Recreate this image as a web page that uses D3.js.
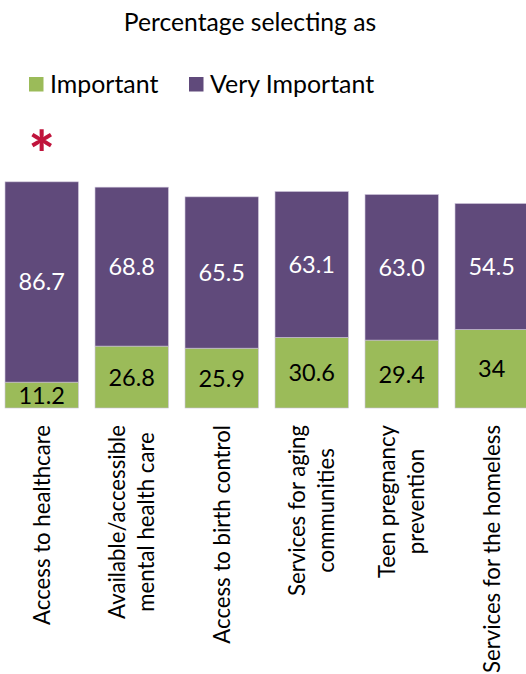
<!DOCTYPE html>
<html>
<head>
<meta charset="utf-8">
<script src="https://cdn.jsdelivr.net/npm/d3@7"></script>
<style>
  body { margin: 0; background: #fff; }
  svg { display: block; font-family: Lato, "Open Sans", sans-serif; }
</style>
</head>
<body>
<svg id="chart" width="526" height="674"></svg>
<script>
// Survey results: share of respondents rating each service
const categories = [
  "Access to healthcare",
  "Available/accessible\nmental health care",
  "Access to birth control",
  "Services for aging\ncommunities",
  "Teen pregnancy\nprevention",
  "Services for the homeless"
];
const importantText = ["11.2", "26.8", "25.9", "30.6", "29.4", "34"];
const veryImportantText = ["86.7", "68.8", "65.5", "63.1", "63.0", "54.5"];
const important = importantText.map(Number);
const veryImportant = veryImportantText.map(Number);
const seriesNames = ["Important", "Very Important"];
const seriesColors = ["#9BBB59", "#604A7B"];
const flagged = ["Access to healthcare"];

const svg = d3.select("#chart");
const baseY = 408;

const rows = categories.map((c, i) => ({
  category: c,
  Important: important[i],
  "Very Important": veryImportant[i],
  labels: { Important: importantText[i], "Very Important": veryImportantText[i] }
}));

const x = d3.scaleBand()
  .domain(categories)
  .range([-3.3, 536.7])
  .paddingInner(0.185)
  .paddingOuter(0.0925);

const y = d3.scaleLinear().domain([0, 100]).range([baseY, 177]);

const color = d3.scaleOrdinal().domain(seriesNames).range(seriesColors);

const stacked = d3.stack().keys(seriesNames)(rows);

// Title
svg.append("text")
  .attr("x", 250).attr("y", 31)
  .attr("text-anchor", "middle")
  .attr("font-size", 24.7)
  .attr("fill", "#000")
  .text("Percentage selecting as");

// Legend
const legendX = [29, 189];
const legend = svg.append("g");
seriesNames.forEach((name, i) => {
  legend.append("rect")
    .attr("x", legendX[i]).attr("y", 77)
    .attr("width", 14.5).attr("height", 14.5)
    .attr("fill", color(name));
  legend.append("text")
    .attr("x", legendX[i] + 21).attr("y", 93)
    .attr("font-size", 24.9)
    .attr("fill", "#000")
    .text(name);
});

// Stacked bars
const layers = svg.append("g").selectAll("g")
  .data(stacked)
  .join("g")
  .attr("fill", d => color(d.key));

layers.selectAll("rect")
  .data(d => d)
  .join("rect")
  .attr("x", d => x(d.data.category))
  .attr("y", d => y(d[1]))
  .attr("width", x.bandwidth())
  .attr("height", d => y(d[0]) - y(d[1]))
  .attr("stroke", "#c9bfd6")
  .attr("stroke-width", 0.6);

// Segment value labels
stacked.forEach(layer => {
  svg.append("g").selectAll("text")
    .data(layer)
    .join("text")
    .attr("x", d => x(d.data.category) + x.bandwidth() / 2)
    .attr("y", d => (y(d[0]) + y(d[1])) / 2)
    .attr("dy", "0.36em")
    .attr("text-anchor", "middle")
    .attr("font-size", 23.5)
    .attr("fill", layer.key === "Very Important" ? "#fff" : "#000")
    .text(d => d.data.labels[layer.key]);
});

// Marker above flagged categories
svg.append("g").selectAll("text")
  .data(flagged)
  .join("text")
  .attr("x", d => x(d) + x.bandwidth() / 2)
  .attr("y", 177)
  .attr("text-anchor", "middle")
  .attr("font-size", 62)
  .attr("font-weight", 900)
  .attr("fill", "#C0143C")
  .text("*");

// Rotated category labels, lines centred on each other, block starting below the bars
const lineH = 28.8;
const axis = svg.append("g");
categories.forEach(c => {
  const lines = c.split("\n");
  const g = axis.append("g");
  const t = g.append("text")
    .attr("text-anchor", "middle")
    .attr("font-size", 22.2)
    .attr("fill", "#000");
  lines.forEach((ln, i) => {
    t.append("tspan")
      .attr("x", 0)
      .attr("y", (i - (lines.length - 1) / 2) * lineH + 8)
      .text(ln);
  });
  let maxLen = 0;
  t.selectAll("tspan").each(function () {
    maxLen = Math.max(maxLen, this.getComputedTextLength());
  });
  const cx = x(c) + x.bandwidth() / 2;
  g.attr("transform", `translate(${cx},${425 + maxLen / 2}) rotate(-90)`);
});
</script>
</body>
</html>
